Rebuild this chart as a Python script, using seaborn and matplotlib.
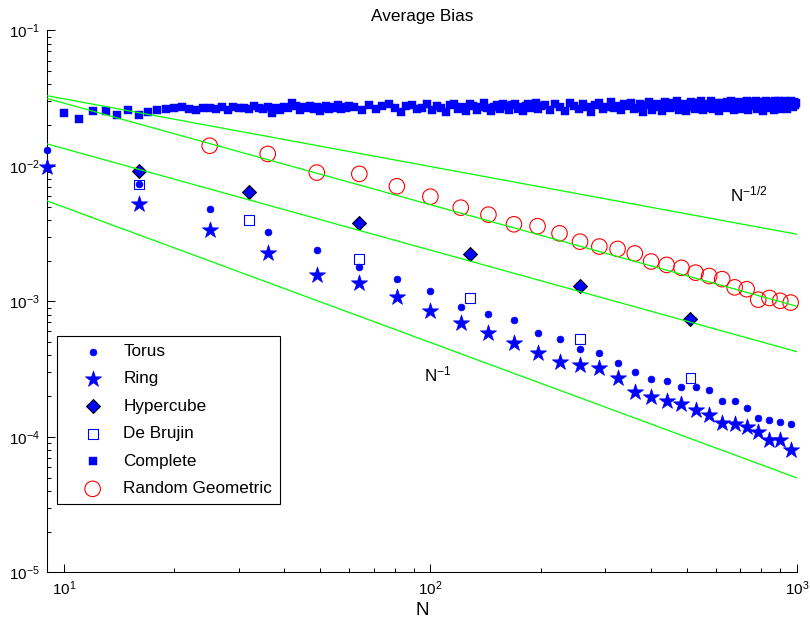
import numpy as np
import matplotlib
matplotlib.use("Agg")
import matplotlib.pyplot as plt
import seaborn as sns
from matplotlib.ticker import LogLocator, NullFormatter

# values
torus_n = [9, 16, 25, 36, 49, 64, 81, 100, 121, 144, 169, 196, 225, 256, 289,
           324, 361, 400, 441, 484, 529, 576, 625, 676, 729, 784, 841, 900, 961]
torus_bias = [0.0132, 0.00733, 0.00484, 0.00324, 0.0024, 0.00179, 0.00147,
              0.0012, 0.000906, 0.000809, 0.00073, 0.000589, 0.000528, 0.000449,
              0.000419, 0.000353, 0.000302, 0.000267, 0.00026, 0.000233,
              0.000235, 0.00022, 0.000184, 0.000184, 0.000164, 0.000138,
              0.000133, 0.000129, 0.000125]

ring_n = torus_n
ring_bias = [0.00989, 0.00521, 0.00334, 0.00229, 0.00157, 0.00136, 0.00108,
             0.00085, 0.00069, 0.000582, 0.000497, 0.000419, 0.000357, 0.000338,
             0.000321, 0.000271, 0.000216, 0.000198, 0.000185, 0.000175,
             0.000158, 0.000144, 0.000126, 0.000124, 0.000119, 0.000108,
             0.0000951, 0.0000951, 0.0000793]

hypercube_n = [16, 32, 64, 128, 256, 512]
hypercube_bias = [0.00923, 0.0064, 0.00382, 0.00225, 0.00129, 0.00074]

debruijn_n = [16, 32, 64, 128, 256, 512]
debruijn_bias = [0.00729, 0.00399, 0.00205, 0.00106, 0.000528, 0.000271]

rgg_n = torus_n[2:]
rgg_bias = [0.0141, 0.01227, 0.00893, 0.00874, 0.00708, 0.00593, 0.00492,
            0.00437, 0.00371, 0.00359, 0.00318, 0.00276, 0.00254, 0.00244,
            0.00226, 0.00197, 0.00186, 0.00177, 0.00163, 0.00154, 0.00146,
            0.00127, 0.00123, 0.00103, 0.00106, 0.00101, 0.00098]

# complete graph: every N up to 60, then sampled (the band is solid anyway)
complete_n = np.concatenate([np.arange(10, 61), np.arange(62, 201, 3),
                             np.arange(205, 1000, 7)])
complete_bias_e3 = [
    # N = 10..60
    24.7, 22.2, 25.6, 25.6, 23.7, 25.9, 23.7, 25.0, 25.9, 26.2,
    26.7, 27.1, 26.5, 25.9, 26.9, 26.7, 26.5, 27.3, 26.0, 27.4,
    26.6, 27.0, 26.2, 27.5, 26.8, 26.3, 27.2, 24.8, 27.0, 26.1,
    27.4, 26.9, 29.2, 27.7, 26.0, 27.1, 26.6, 27.9, 26.3, 27.2,
    25.6, 27.0, 27.6, 26.4, 27.3, 26.8, 28.0, 26.2, 27.1, 26.7,
    27.5,
    # N = 62..200 step 3
    27.2, 25.8, 28.1, 26.4, 27.6, 28.7, 26.9, 25.2, 27.5, 28.3,
    26.3, 27.0, 28.9, 26.0, 27.8, 26.7, 25.0, 28.0, 28.5, 26.5,
    27.3, 25.6, 28.8, 27.7, 26.1, 27.1, 29.0, 26.6, 25.4, 27.4,
    28.2, 26.2, 28.6, 27.5, 25.9, 28.1, 28.9, 26.4, 27.2, 25.3,
    27.9, 28.6, 26.8, 27.5, 29.1, 26.3, 27.7,
    # N = 205..996 step 7
    28.3, 26.0, 28.9, 27.1, 25.4, 29.3, 27.7, 26.5, 28.7, 27.3,
    25.2, 28.1, 29.0, 26.2, 27.4, 29.6, 26.7, 27.9, 25.7, 28.5,
    27.6, 29.4, 26.3, 27.0, 28.8, 24.9, 28.0, 29.9, 26.0, 27.5,
    28.6, 27.1, 25.6, 29.5, 28.2, 26.6, 29.0, 27.3, 30.1, 26.1,
    27.8, 28.9, 25.3, 28.4, 29.7, 27.4, 26.5, 29.2, 27.9, 30.0,
    25.9, 28.0, 28.7, 27.0, 30.3, 26.3, 28.2, 29.4, 25.5, 27.6,
    29.1, 28.4, 26.6, 29.6, 27.3, 30.2, 27.9, 25.8, 29.0, 28.3,
    29.9, 26.4, 27.7, 29.3, 27.1, 30.4, 26.0, 28.6, 28.0, 29.5,
    27.5, 30.0, 26.5, 28.8, 27.8, 29.8, 25.6, 28.4, 30.1, 27.6,
    29.2, 26.9, 29.7, 28.1, 26.1, 30.2, 27.7, 29.0, 30.4, 26.4,
    28.0, 29.3, 27.2, 30.0, 28.5, 26.2, 29.6, 27.9, 30.3, 28.7,
    27.4, 29.8, 28.2, 29.1]
complete_bias = np.array(complete_bias_e3) * 1e-3

# reference power laws c * N^p
ref_coef = [0.099, 0.1636, 0.0756, 0.0497]
ref_power = [-0.5, -0.75, -0.75, -1.0]
ref_n = np.array([9.0, 1000.0])

sns.set_style("ticks")
plt.rcParams['font.family'] = ['Liberation Sans', 'DejaVu Sans']
plt.rcParams['mathtext.fontset'] = 'custom'
plt.rcParams['mathtext.rm'] = 'Liberation Sans'
plt.rcParams['mathtext.it'] = 'Liberation Sans:italic'
plt.rcParams['mathtext.bf'] = 'Liberation Sans:bold'
for key in ['text.color', 'axes.labelcolor', 'xtick.color', 'ytick.color', 'axes.edgecolor']:
    plt.rcParams[key] = 'black'

fig, ax = plt.subplots(figsize=(8.1, 6.22), dpi=100)
fig.subplots_adjust(left=47/810, right=797/810, top=1-30.5/622, bottom=1-572.3/622)
ax.set_xscale('log')
ax.set_yscale('log')

blue = (0, 0, 1)
sns.scatterplot(x=torus_n, y=torus_bias, marker='o', s=24, color=blue,
                edgecolor=blue, linewidth=0.5, label='Torus', ax=ax, clip_on=False, zorder=3)
sns.scatterplot(x=ring_n, y=ring_bias, marker='*', s=150, color=blue,
                edgecolor=blue, linewidth=0.5, label='Ring', ax=ax, clip_on=False, zorder=3)
sns.scatterplot(x=hypercube_n, y=hypercube_bias, marker='D', s=50, color=blue,
                edgecolor='black', linewidth=0.8, label='Hypercube', ax=ax, clip_on=False, zorder=3)
sns.scatterplot(x=debruijn_n, y=debruijn_bias, marker='s', s=50, facecolor='none',
                edgecolor=blue, linewidth=0.8, label='De Brujin', ax=ax, clip_on=False, zorder=3)
sns.scatterplot(x=complete_n, y=complete_bias, marker='s', s=34, color=blue,
                edgecolor=blue, linewidth=0.3, label='Complete', ax=ax, clip_on=False, zorder=3)
sns.scatterplot(x=rgg_n, y=rgg_bias, marker='o', s=125, facecolor='none',
                edgecolor='red', linewidth=0.8, label='Random Geometric', ax=ax, clip_on=False, zorder=3)

for c, p in zip(ref_coef, ref_power):
    sns.lineplot(x=ref_n, y=c * ref_n ** p, color=(0, 1, 0), linewidth=0.9, ax=ax, zorder=4)

ax.text(657, 0.00545, r'$\mathrm{N}^{-1/2}$', fontsize=12.3, ha='left', va='baseline')
ax.text(96.3, 0.000256, r'$\mathrm{N}^{-1}$', fontsize=12.3, ha='left', va='baseline')

ax.set_xlim(9, 1000)
ax.set_ylim(1e-5, 1e-1)
ax.xaxis.set_minor_locator(LogLocator(base=10, subs=np.arange(2, 10)))
ax.yaxis.set_minor_locator(LogLocator(base=10, subs=np.arange(2, 10)))
ax.xaxis.set_minor_formatter(NullFormatter())
ax.yaxis.set_minor_formatter(NullFormatter())
ax.tick_params(which='both', direction='in', width=0.75, labelsize=11, pad=5,
               bottom=True, left=True, top=False, right=False,
               color='black', labelcolor='black')
ax.tick_params(which='major', length=5.5)
ax.tick_params(which='minor', length=3)
for side in ['top', 'right']:
    ax.spines[side].set_visible(False)
for side in ['left', 'bottom']:
    ax.spines[side].set_linewidth(0.75)
    ax.spines[side].set_color('black')

ax.set_title('Average Bias', fontsize=12.4, pad=7, color='black')
ax.set_xlabel('N', fontsize=13.5, labelpad=3, color='black')
ax.set_ylabel('')

handles, labels = ax.get_legend_handles_labels()
leg = ax.legend(handles, labels, loc='lower left', bbox_to_anchor=(0.013, 0.126),
                borderaxespad=0, fontsize=12.3, scatterpoints=1, frameon=True,
                fancybox=False, framealpha=1, edgecolor='black', borderpad=0.45,
                handlelength=3.3, handletextpad=0.15, labelspacing=0.73)
leg.get_frame().set_linewidth(0.8)
for t in leg.get_texts():
    t.set_color('black')

fig.savefig('out.png', dpi=100)
